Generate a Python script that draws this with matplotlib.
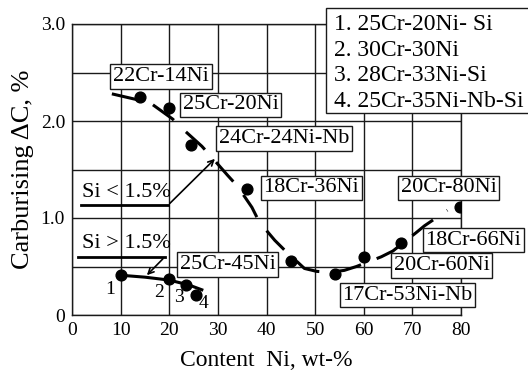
import matplotlib
matplotlib.use("Agg")
import matplotlib.pyplot as plt
from matplotlib.patches import Rectangle

plt.rcParams['font.family'] = ['Liberation Serif', 'DejaVu Serif']

# Si < 1.5 % alloys (upper group)
ni_hi = [14, 20, 24.5, 36, 45, 54, 60, 67.7, 79.7]
dc_hi = [2.25, 2.13, 1.75, 1.30, 0.56, 0.42, 0.60, 0.74, 1.11]

# Si > 1.5 % alloys (lower group, numbered)
ni_lo = [10, 20, 23.4, 25.4]
dc_lo = [0.41, 0.37, 0.31, 0.21]
lo_nums = ['1', '2', '3', '4']
lo_num_pos = [(7.8, 0.26), (17.9, 0.23), (22.0, 0.18), (27.1, 0.12)]

# dashed trend for Si < 1.5 %
trend_x = [8.2, 12.5, 16, 20.7, 22.5, 26.7, 28.5, 32, 34, 37, 38.5, 41.7,
           43.7, 47.8, 50.3, 53, 56, 58.5, 63.6, 66, 70.8, 72.5, 77.2]
trend_y = [2.28, 2.23, 2.19, 2.02, 1.93, 1.74, 1.64, 1.44, 1.33, 1.11, 0.96, 0.77,
           0.67, 0.48, 0.45, 0.44, 0.46, 0.50, 0.60, 0.66, 0.85, 0.92, 1.08]

# solid trend for Si > 1.5 %
lo_trend_x = [10, 15, 20, 24, 26.7]
lo_trend_y = [0.41, 0.39, 0.36, 0.31, 0.26]

labels = ['22Cr-14Ni', '25Cr-20Ni', '24Cr-24Ni-Nb', '18Cr-36Ni', '20Cr-80Ni',
          '18Cr-66Ni', '20Cr-60Ni', '17Cr-53Ni-Nb', '25Cr-45Ni']
label_pos = [(18.3, 2.46), (32.6, 2.165), (43.6, 1.82), (49.25, 1.31), (77.5, 1.31),
             (82.5, 0.77), (76.0, 0.51), (69.0, 0.206), (32.0, 0.52)]

legend_lines = ['1. 25Cr-20Ni- Si', '2. 30Cr-30Ni', '3. 28Cr-33Ni-Si', '4. 25Cr-35Ni-Nb-Si']

xticks = [0, 10, 20, 30, 40, 50, 60, 70, 80]
yticks = [0, 1.0, 2.0, 3.0]
ytick_labels = ['0', '1.0', '2.0', '3.0']

fig = plt.figure(figsize=(5.28, 3.73), dpi=100)
ax = fig.add_axes([72/528, 1-315/373, 389/528, 291/373])
ax.set_xlim(0, 80)
ax.set_ylim(0, 3.0)
ax.set_xticks(xticks)
ax.set_yticks(yticks)
ax.set_yticklabels(ytick_labels)
ax.set_yticks([0.5, 1.5, 2.5], minor=True)
ax.grid(True, which='both', color='#1a1a1a', lw=1.0)
ax.tick_params(which='both', length=0, labelsize=14, pad=5)
for s in ax.spines.values():
    s.set_color('#1a1a1a')
    s.set_linewidth(1.0)
ax.set_axisbelow(True)

ax.set_xlabel('Content  Ni, wt-%', fontsize=17, labelpad=8)
ax.set_ylabel('Carburising ΔC, %', fontsize=19, labelpad=5)

ax.plot(trend_x, trend_y, color='black', lw=2.2, dashes=(8.5, 5.5), zorder=3)
ax.plot(lo_trend_x, lo_trend_y, color='black', lw=2.2, zorder=3)
ax.scatter(ni_hi, dc_hi, s=60, color='black', zorder=4)
ax.scatter(ni_lo, dc_lo, s=60, color='black', zorder=4)

for t, (x, y) in zip(lo_nums, lo_num_pos):
    ax.text(x, y, t, fontsize=14, ha='center', va='center', zorder=5)

for t, (x, y) in zip(labels, label_pos):
    ax.text(x, y, t, fontsize=16, ha='center', va='center', zorder=6, clip_on=False,
            bbox=dict(boxstyle='square,pad=0.12', fc='white', ec='#1a1a1a', lw=1.0))

# Si annotations
ax.text(2, 1.17, 'Si < 1.5%', fontsize=16, ha='left', va='bottom', zorder=5)
ax.plot([1.9, 19.7], [1.13, 1.13], color='black', lw=2.0, zorder=5)
ax.annotate('', xy=(29.8, 1.63), xytext=(19.7, 1.13),
            arrowprops=dict(arrowstyle='->', color='black', lw=1.2), zorder=5)
ax.text(2, 0.64, 'Si > 1.5%', fontsize=16, ha='left', va='bottom', zorder=5)
ax.plot([1.2, 19.1], [0.60, 0.60], color='black', lw=2.0, zorder=5)
ax.annotate('', xy=(15.0, 0.39), xytext=(19.1, 0.60),
            arrowprops=dict(arrowstyle='->', color='black', lw=1.2), zorder=5)

# legend box
fig.patches.append(Rectangle((326/528, 1-113/373), 210/528, 105/373,
                             transform=fig.transFigure, fc='white', ec='#1a1a1a', lw=1.0, zorder=10))
for i, t in enumerate(legend_lines):
    fig.text(334/528, 1-(30+25.7*i)/373, t, fontsize=17, ha='left', va='baseline', zorder=11)

fig.savefig('out.png', dpi=100)
